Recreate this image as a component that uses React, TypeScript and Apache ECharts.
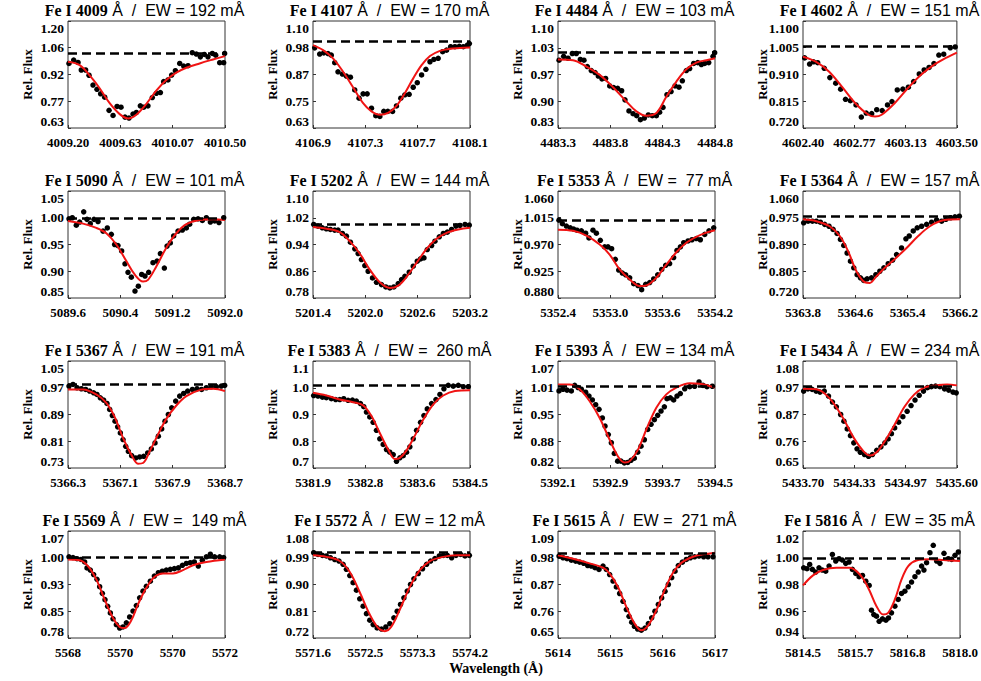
import React, { useEffect, useRef } from "react";
import * as echarts from "echarts";

// ---------- data (wavelength in Å, relative flux) ----------
const obs4009 = [[4009.208,0.974],[4009.247,0.992],[4009.283,0.979],[4009.310,0.939],[4009.346,0.939],[4009.374,0.911],[4009.407,0.859],[4009.440,0.836],[4009.470,0.812],[4009.504,0.794],[4009.540,0.724],[4009.573,0.697],[4009.606,0.745],[4009.639,0.741],[4009.672,0.688],[4009.705,0.683],[4009.738,0.704],[4009.766,0.713],[4009.799,0.748],[4009.827,0.741],[4009.862,0.748],[4009.898,0.792],[4009.931,0.815],[4009.965,0.819],[4009.992,0.877],[4010.028,0.886],[4010.058,0.912],[4010.089,0.935],[4010.125,0.974],[4010.158,0.960],[4010.194,0.962],[4010.229,1.031],[4010.263,1.024],[4010.296,1.009],[4010.329,1.022],[4010.359,1.009],[4010.395,1.027],[4010.423,1.018],[4010.456,0.978],[4010.489,0.978],[4010.497,1.027]];
const fit4009 = [[4009.200,0.983],[4009.297,0.965],[4009.393,0.900],[4009.462,0.842],[4009.545,0.762],[4009.628,0.704],[4009.697,0.681],[4009.766,0.701],[4009.849,0.759],[4009.931,0.829],[4010.014,0.886],[4010.097,0.925],[4010.180,0.951],[4010.290,0.974],[4010.401,0.995],[4010.500,1.013]];

const obs4107 = [[4106.913,0.982],[4106.951,0.955],[4106.982,0.960],[4107.015,0.957],[4107.040,0.950],[4107.066,0.917],[4107.091,0.877],[4107.125,0.867],[4107.155,0.858],[4107.186,0.853],[4107.219,0.797],[4107.252,0.761],[4107.283,0.780],[4107.314,0.780],[4107.347,0.717],[4107.380,0.684],[4107.411,0.681],[4107.441,0.703],[4107.472,0.703],[4107.508,0.703],[4107.538,0.727],[4107.571,0.761],[4107.602,0.776],[4107.635,0.778],[4107.666,0.809],[4107.697,0.829],[4107.730,0.863],[4107.763,0.888],[4107.794,0.921],[4107.824,0.931],[4107.857,0.936],[4107.891,0.965],[4107.921,0.972],[4107.952,0.987],[4107.985,0.987],[4108.018,0.989],[4108.049,0.987],[4108.080,0.994],[4108.095,1.001]];
const fit4107 = [[4106.900,0.994],[4106.977,0.972],[4107.053,0.936],[4107.130,0.877],[4107.206,0.809],[4107.283,0.739],[4107.347,0.703],[4107.411,0.688],[4107.474,0.696],[4107.538,0.727],[4107.602,0.783],[4107.666,0.848],[4107.730,0.906],[4107.794,0.946],[4107.870,0.969],[4107.947,0.978],[4108.023,0.981],[4108.100,0.984]];

const obs4484 = [[4483.310,1.001],[4483.354,1.011],[4483.396,1.006],[4483.437,1.018],[4483.475,1.018],[4483.513,1.003],[4483.548,1.001],[4483.580,0.985],[4483.618,0.975],[4483.654,0.970],[4483.685,0.961],[4483.720,0.954],[4483.755,0.955],[4483.794,0.936],[4483.832,0.932],[4483.870,0.930],[4483.908,0.924],[4483.940,0.901],[4483.978,0.873],[4484.017,0.866],[4484.052,0.861],[4484.087,0.851],[4484.125,0.855],[4484.163,0.863],[4484.201,0.861],[4484.240,0.861],[4484.271,0.870],[4484.303,0.882],[4484.341,0.914],[4484.380,0.922],[4484.418,0.936],[4484.456,0.933],[4484.488,0.949],[4484.526,0.975],[4484.558,0.980],[4484.596,0.993],[4484.635,0.995],[4484.670,0.990],[4484.701,0.993],[4484.740,0.995],[4484.781,1.011],[4484.797,1.020]];
const fit4484 = [[4483.300,1.003],[4483.443,1.001],[4483.571,0.985],[4483.698,0.964],[4483.826,0.933],[4483.953,0.897],[4484.049,0.872],[4484.144,0.861],[4484.240,0.868],[4484.335,0.909],[4484.431,0.947],[4484.526,0.978],[4484.622,0.995],[4484.717,1.001],[4484.800,1.006]];

const obs4602 = [[4602.412,0.969],[4602.447,0.947],[4602.475,0.955],[4602.505,0.952],[4602.552,0.932],[4602.592,0.899],[4602.634,0.879],[4602.669,0.858],[4602.704,0.822],[4602.739,0.817],[4602.779,0.802],[4602.817,0.759],[4602.852,0.773],[4602.891,0.771],[4602.927,0.785],[4602.966,0.782],[4603.004,0.802],[4603.036,0.814],[4603.074,0.855],[4603.114,0.858],[4603.153,0.865],[4603.191,0.885],[4603.231,0.912],[4603.266,0.926],[4603.301,0.935],[4603.336,0.949],[4603.371,0.979],[4603.406,0.982],[4603.453,1.005],[4603.488,1.008]];
const fit4602 = [[4602.400,0.973],[4602.494,0.955],[4602.587,0.920],[4602.681,0.865],[4602.774,0.808],[4602.868,0.767],[4602.915,0.761],[4602.962,0.767],[4603.055,0.808],[4603.149,0.861],[4603.242,0.908],[4603.336,0.944],[4603.430,0.971],[4603.500,0.988]];

const obs5090 = [[5089.615,0.998],[5089.666,1.000],[5089.727,0.986],[5089.778,0.992],[5089.840,1.011],[5089.890,0.997],[5089.941,0.989],[5089.997,0.997],[5090.059,0.993],[5090.135,0.975],[5090.201,0.981],[5090.262,0.969],[5090.313,0.950],[5090.364,0.948],[5090.420,0.938],[5090.471,0.914],[5090.517,0.898],[5090.568,0.889],[5090.624,0.863],[5090.675,0.872],[5090.726,0.894],[5090.777,0.891],[5090.833,0.898],[5090.899,0.916],[5090.961,0.919],[5091.012,0.933],[5091.073,0.906],[5091.114,0.947],[5091.164,0.953],[5091.215,0.966],[5091.282,0.975],[5091.348,0.977],[5091.409,0.981],[5091.460,0.988],[5091.521,0.997],[5091.588,0.998],[5091.654,0.995],[5091.715,1.000],[5091.776,0.992],[5091.842,0.994],[5091.908,0.991],[5091.980,1.000]];
const fit5090 = [[5089.600,0.994],[5089.829,0.989],[5090.033,0.981],[5090.186,0.971],[5090.339,0.950],[5090.492,0.919],[5090.619,0.894],[5090.747,0.881],[5090.823,0.884],[5090.950,0.909],[5091.103,0.944],[5091.256,0.971],[5091.409,0.988],[5091.613,0.996],[5091.817,0.997],[5092.000,0.996]];

const obs5202 = [[5201.408,1.000],[5201.457,0.995],[5201.507,0.990],[5201.553,0.987],[5201.599,0.985],[5201.649,0.983],[5201.687,0.983],[5201.737,0.973],[5201.783,0.965],[5201.829,0.947],[5201.879,0.927],[5201.917,0.913],[5201.955,0.895],[5201.994,0.877],[5202.032,0.860],[5202.082,0.840],[5202.128,0.827],[5202.185,0.820],[5202.235,0.813],[5202.281,0.810],[5202.327,0.813],[5202.377,0.823],[5202.415,0.835],[5202.453,0.845],[5202.503,0.857],[5202.549,0.875],[5202.595,0.890],[5202.633,0.897],[5202.672,0.900],[5202.710,0.925],[5202.760,0.937],[5202.798,0.950],[5202.848,0.963],[5202.894,0.973],[5202.940,0.977],[5202.989,0.985],[5203.039,0.995],[5203.085,0.997],[5203.143,1.000],[5203.192,0.998]];
const fit5202 = [[5201.400,0.992],[5201.553,0.987],[5201.706,0.977],[5201.821,0.950],[5201.936,0.913],[5202.051,0.865],[5202.166,0.827],[5202.281,0.810],[5202.377,0.817],[5202.472,0.843],[5202.587,0.885],[5202.702,0.927],[5202.817,0.957],[5202.932,0.975],[5203.066,0.985],[5203.200,0.990]];

const obs5353 = [[5352.411,1.011],[5352.450,1.005],[5352.496,1.001],[5352.541,0.998],[5352.580,0.996],[5352.618,0.994],[5352.668,0.993],[5352.717,0.989],[5352.755,0.981],[5352.801,0.994],[5352.840,0.989],[5352.885,0.977],[5352.935,0.966],[5352.973,0.966],[5353.015,0.963],[5353.057,0.945],[5353.096,0.927],[5353.138,0.922],[5353.176,0.919],[5353.222,0.914],[5353.268,0.904],[5353.317,0.901],[5353.359,0.894],[5353.405,0.903],[5353.451,0.906],[5353.497,0.912],[5353.543,0.919],[5353.589,0.928],[5353.634,0.935],[5353.680,0.938],[5353.726,0.948],[5353.764,0.960],[5353.803,0.966],[5353.841,0.973],[5353.891,0.976],[5353.936,0.978],[5353.986,0.980],[5354.032,0.978],[5354.082,0.987],[5354.131,0.993],[5354.185,0.998]];
const fit5353 = [[5352.400,0.995],[5352.572,0.993],[5352.725,0.985],[5352.878,0.970],[5352.992,0.953],[5353.107,0.928],[5353.222,0.911],[5353.336,0.900],[5353.413,0.901],[5353.527,0.914],[5353.642,0.936],[5353.757,0.957],[5353.871,0.973],[5353.986,0.983],[5354.101,0.990],[5354.200,0.994]];

const obs5364 = [[5363.810,0.959],[5363.877,0.964],[5363.943,0.964],[5364.004,0.964],[5364.066,0.961],[5364.132,0.954],[5364.198,0.948],[5364.260,0.938],[5364.321,0.925],[5364.372,0.906],[5364.423,0.887],[5364.474,0.863],[5364.525,0.837],[5364.576,0.816],[5364.627,0.794],[5364.678,0.784],[5364.729,0.776],[5364.780,0.781],[5364.847,0.784],[5364.913,0.794],[5364.974,0.805],[5365.036,0.816],[5365.102,0.829],[5365.168,0.840],[5365.230,0.858],[5365.306,0.879],[5365.373,0.908],[5365.424,0.917],[5365.485,0.933],[5365.546,0.943],[5365.613,0.948],[5365.689,0.954],[5365.766,0.961],[5365.842,0.968],[5365.919,0.964],[5365.985,0.970],[5366.057,0.975],[5366.123,0.978],[5366.190,0.980]];
const fit5364 = [[5363.800,0.970],[5364.004,0.964],[5364.208,0.948],[5364.362,0.917],[5364.489,0.869],[5364.617,0.805],[5364.745,0.770],[5364.821,0.768],[5364.923,0.789],[5365.051,0.816],[5365.204,0.844],[5365.383,0.879],[5365.561,0.917],[5365.740,0.948],[5365.944,0.967],[5366.200,0.970]];

const obs5367 = [[5366.315,0.975],[5366.376,0.980],[5366.438,0.970],[5366.504,0.967],[5366.570,0.965],[5366.631,0.960],[5366.692,0.955],[5366.743,0.950],[5366.794,0.940],[5366.845,0.933],[5366.896,0.923],[5366.937,0.905],[5366.978,0.887],[5367.019,0.870],[5367.059,0.853],[5367.100,0.835],[5367.141,0.815],[5367.182,0.795],[5367.222,0.780],[5367.273,0.767],[5367.334,0.760],[5367.396,0.763],[5367.457,0.765],[5367.518,0.775],[5367.574,0.787],[5367.630,0.805],[5367.681,0.825],[5367.732,0.847],[5367.783,0.870],[5367.834,0.890],[5367.885,0.910],[5367.946,0.930],[5368.007,0.945],[5368.068,0.953],[5368.129,0.960],[5368.201,0.965],[5368.272,0.967],[5368.343,0.965],[5368.415,0.970],[5368.491,0.973],[5368.568,0.973],[5368.644,0.975],[5368.695,0.977]];
const fit5367 = [[5366.300,0.965],[5366.529,0.965],[5366.733,0.950],[5366.886,0.925],[5367.013,0.883],[5367.141,0.820],[5367.268,0.770],[5367.370,0.743],[5367.447,0.745],[5367.549,0.780],[5367.676,0.830],[5367.803,0.877],[5367.956,0.917],[5368.109,0.945],[5368.313,0.963],[5368.517,0.967],[5368.700,0.960]];

const obs5383 = [[5381.911,0.971],[5381.983,0.969],[5382.055,0.965],[5382.121,0.963],[5382.204,0.959],[5382.276,0.956],[5382.343,0.956],[5382.409,0.959],[5382.481,0.953],[5382.553,0.954],[5382.619,0.950],[5382.686,0.941],[5382.741,0.929],[5382.785,0.909],[5382.840,0.891],[5382.896,0.871],[5382.951,0.841],[5383.006,0.809],[5383.062,0.788],[5383.117,0.769],[5383.172,0.759],[5383.228,0.750],[5383.283,0.725],[5383.338,0.738],[5383.394,0.746],[5383.449,0.759],[5383.504,0.779],[5383.560,0.809],[5383.615,0.841],[5383.681,0.871],[5383.737,0.896],[5383.792,0.921],[5383.864,0.941],[5383.936,0.956],[5384.002,0.975],[5384.068,0.996],[5384.140,1.009],[5384.223,1.006],[5384.306,1.009],[5384.389,1.004],[5384.472,1.004]];
const fit5383 = [[5381.900,0.981],[5382.121,0.971],[5382.343,0.956],[5382.564,0.946],[5382.730,0.934],[5382.868,0.894],[5383.006,0.831],[5383.145,0.769],[5383.255,0.734],[5383.338,0.738],[5383.449,0.766],[5383.587,0.821],[5383.726,0.881],[5383.892,0.938],[5384.057,0.971],[5384.251,0.988],[5384.500,0.991]];

const obs5393 = [[5392.115,1.000],[5392.176,1.004],[5392.238,1.002],[5392.304,1.000],[5392.355,1.013],[5392.406,1.008],[5392.457,1.004],[5392.523,0.997],[5392.574,0.988],[5392.625,0.979],[5392.676,0.968],[5392.727,0.957],[5392.778,0.937],[5392.819,0.918],[5392.869,0.898],[5392.915,0.879],[5392.961,0.854],[5393.012,0.836],[5393.063,0.836],[5393.114,0.832],[5393.165,0.833],[5393.216,0.838],[5393.267,0.843],[5393.318,0.857],[5393.369,0.871],[5393.420,0.886],[5393.471,0.910],[5393.522,0.922],[5393.573,0.933],[5393.624,0.943],[5393.675,0.953],[5393.726,0.963],[5393.766,0.982],[5393.817,0.984],[5393.868,0.979],[5393.919,0.988],[5393.970,0.994],[5394.037,1.005],[5394.113,1.010],[5394.189,1.011],[5394.256,1.021],[5394.317,1.013],[5394.378,1.010],[5394.459,1.011]];
const fit5393 = [[5392.100,1.015],[5392.278,1.015],[5392.431,1.004],[5392.584,0.976],[5392.737,0.937],[5392.890,0.886],[5393.017,0.847],[5393.119,0.833],[5393.196,0.836],[5393.323,0.863],[5393.450,0.910],[5393.603,0.961],[5393.756,0.992],[5393.909,1.008],[5394.113,1.018],[5394.266,1.017],[5394.500,1.008]];

const obs5434 = [[5433.708,0.959],[5433.761,0.968],[5433.813,0.966],[5433.862,0.959],[5433.910,0.955],[5433.963,0.959],[5434.015,0.939],[5434.064,0.915],[5434.112,0.896],[5434.165,0.865],[5434.205,0.838],[5434.246,0.807],[5434.286,0.780],[5434.327,0.751],[5434.367,0.727],[5434.408,0.713],[5434.460,0.704],[5434.509,0.697],[5434.557,0.704],[5434.610,0.721],[5434.662,0.735],[5434.711,0.751],[5434.751,0.767],[5434.792,0.788],[5434.832,0.811],[5434.881,0.834],[5434.933,0.856],[5434.986,0.878],[5435.034,0.901],[5435.083,0.923],[5435.135,0.942],[5435.188,0.959],[5435.236,0.973],[5435.285,0.977],[5435.337,0.979],[5435.390,0.977],[5435.447,0.968],[5435.499,0.963],[5435.552,0.955],[5435.592,0.952]];
const fit5434 = [[5433.700,0.968],[5433.862,0.966],[5434.023,0.932],[5434.185,0.856],[5434.327,0.771],[5434.448,0.717],[5434.529,0.700],[5434.610,0.713],[5434.711,0.758],[5434.832,0.825],[5434.953,0.896],[5435.075,0.946],[5435.196,0.973],[5435.337,0.982],[5435.479,0.986],[5435.600,0.982]];

const obs5569 = [[5568.519,1.000],[5568.596,0.998],[5568.672,0.995],[5568.748,0.993],[5568.818,0.986],[5568.863,0.970],[5568.927,0.964],[5568.990,0.952],[5569.054,0.939],[5569.105,0.919],[5569.156,0.901],[5569.207,0.884],[5569.258,0.866],[5569.309,0.848],[5569.360,0.832],[5569.424,0.816],[5569.487,0.807],[5569.551,0.810],[5569.615,0.821],[5569.678,0.837],[5569.742,0.853],[5569.806,0.868],[5569.869,0.889],[5569.933,0.907],[5569.997,0.920],[5570.073,0.934],[5570.150,0.948],[5570.226,0.957],[5570.302,0.961],[5570.379,0.964],[5570.455,0.966],[5570.532,0.968],[5570.608,0.970],[5570.685,0.977],[5570.761,0.982],[5570.837,0.984],[5570.914,0.986],[5570.990,0.975],[5571.067,0.991],[5571.143,1.000],[5571.220,1.007],[5571.302,1.000],[5571.398,1.000],[5571.474,0.998]];
const fit5569 = [[5568.500,0.993],[5568.723,0.991],[5568.882,0.975],[5569.041,0.939],[5569.201,0.884],[5569.360,0.834],[5569.487,0.810],[5569.583,0.807],[5569.710,0.828],[5569.837,0.871],[5569.997,0.916],[5570.156,0.946],[5570.315,0.955],[5570.506,0.955],[5570.697,0.964],[5570.888,0.977],[5571.143,0.986],[5571.500,0.993]];

const obs5572 = [[5571.611,1.007],[5571.683,1.001],[5571.755,0.998],[5571.821,0.996],[5571.888,0.990],[5571.960,0.984],[5572.031,0.979],[5572.098,0.968],[5572.153,0.951],[5572.209,0.930],[5572.264,0.906],[5572.319,0.881],[5572.374,0.852],[5572.430,0.827],[5572.485,0.802],[5572.540,0.780],[5572.596,0.765],[5572.662,0.754],[5572.734,0.750],[5572.806,0.757],[5572.872,0.768],[5572.939,0.788],[5572.994,0.810],[5573.049,0.833],[5573.105,0.855],[5573.160,0.878],[5573.215,0.900],[5573.271,0.919],[5573.343,0.937],[5573.414,0.953],[5573.481,0.968],[5573.547,0.979],[5573.619,0.987],[5573.691,0.996],[5573.757,0.998],[5573.824,0.998],[5573.896,0.990],[5573.968,0.998],[5574.045,1.001],[5574.117,0.996],[5574.189,0.998]];
const fit5572 = [[5571.600,0.998],[5571.821,0.993],[5572.043,0.979],[5572.209,0.942],[5572.374,0.874],[5572.540,0.799],[5572.679,0.754],[5572.789,0.743],[5572.900,0.759],[5573.038,0.816],[5573.204,0.892],[5573.370,0.948],[5573.536,0.979],[5573.757,0.993],[5573.979,0.998],[5574.200,0.998]];

const obs5615 = [[5614.019,0.987],[5614.096,0.980],[5614.172,0.976],[5614.255,0.970],[5614.338,0.966],[5614.414,0.962],[5614.490,0.957],[5614.567,0.948],[5614.637,0.946],[5614.707,0.939],[5614.783,0.932],[5614.860,0.946],[5614.924,0.932],[5614.987,0.911],[5615.051,0.884],[5615.115,0.860],[5615.178,0.833],[5615.242,0.801],[5615.306,0.767],[5615.357,0.739],[5615.408,0.715],[5615.459,0.698],[5615.522,0.687],[5615.592,0.682],[5615.662,0.691],[5615.726,0.709],[5615.790,0.733],[5615.853,0.760],[5615.917,0.788],[5615.981,0.815],[5616.045,0.842],[5616.108,0.870],[5616.172,0.898],[5616.236,0.925],[5616.299,0.948],[5616.376,0.962],[5616.452,0.973],[5616.529,0.980],[5616.611,0.984],[5616.694,0.987],[5616.783,0.984],[5616.866,0.984],[5616.962,0.984]];
const fit5615 = [[5614.000,0.990],[5614.287,0.976],[5614.605,0.957],[5614.860,0.939],[5614.987,0.915],[5615.146,0.860],[5615.306,0.778],[5615.465,0.709],[5615.592,0.682],[5615.720,0.701],[5615.879,0.764],[5616.038,0.847],[5616.197,0.918],[5616.357,0.959],[5616.580,0.984],[5616.771,0.994],[5617.000,1.001]];

const obs5816 = [[5814.515,0.9925],[5814.589,0.9918],[5814.649,0.9950],[5814.709,0.9913],[5814.783,0.9893],[5814.857,0.9925],[5814.932,0.9908],[5815.006,0.9900],[5815.081,0.9938],[5815.155,1.0025],[5815.230,0.9975],[5815.304,0.9993],[5815.379,0.9983],[5815.453,0.9958],[5815.528,0.9968],[5815.602,0.9913],[5815.677,0.9883],[5815.751,0.9858],[5815.826,0.9868],[5815.900,0.9825],[5815.975,0.9793],[5816.027,0.9608],[5816.079,0.9575],[5816.138,0.9563],[5816.198,0.9525],[5816.272,0.9543],[5816.347,0.9533],[5816.406,0.9550],[5816.473,0.9588],[5816.548,0.9638],[5816.622,0.9688],[5816.697,0.9733],[5816.771,0.9750],[5816.846,0.9783],[5816.920,0.9818],[5816.995,0.9858],[5817.069,0.9893],[5817.144,0.9938],[5817.196,0.9908],[5817.255,0.9963],[5817.330,1.0038],[5817.404,1.0093],[5817.479,0.9975],[5817.553,0.9958],[5817.643,1.0033],[5817.740,0.9993],[5817.814,0.9988],[5817.888,1.0018],[5817.963,1.0043]];
const fit5816 = [[5814.500,0.9793],[5814.723,0.9868],[5814.947,0.9908],[5815.245,0.9925],[5815.543,0.9925],[5815.692,0.9900],[5815.840,0.9843],[5815.989,0.9750],[5816.138,0.9638],[5816.287,0.9575],[5816.399,0.9588],[5816.548,0.9688],[5816.697,0.9838],[5816.846,0.9938],[5817.032,0.9980],[5817.330,0.9988],[5817.628,0.9983],[5818.000,0.9975]];

// panel titles, equivalent widths, continuum levels
const lineNames = ["Fe I 4009","Fe I 4107","Fe I 4484","Fe I 4602","Fe I 5090","Fe I 5202","Fe I 5353","Fe I 5364","Fe I 5367","Fe I 5383","Fe I 5393","Fe I 5434","Fe I 5569","Fe I 5572","Fe I 5615","Fe I 5816"];
const ewTexts = ["EW = 192 mÅ","EW = 170 mÅ","EW = 103 mÅ","EW = 151 mÅ","EW = 101 mÅ","EW = 144 mÅ","EW =  77 mÅ","EW = 157 mÅ","EW = 191 mÅ","EW =  260 mÅ","EW = 134 mÅ","EW = 234 mÅ","EW =  149 mÅ","EW = 12 mÅ","EW =  271 mÅ","EW = 35 mÅ"];
const continuum = [1.032,1.008,1.022,1.012,1.003,1.003,1.0105,0.982,0.983,1.0125,1.015,0.977,1.002,1.007,1.001,1.0];

// axis ranges and tick labels
const xRanges = [[4009.2,4010.5],[4106.9,4108.1],[4483.3,4484.8],[4602.4,4603.5],[5089.6,5092.0],[5201.4,5203.2],[5352.4,5354.2],[5363.8,5366.2],[5366.3,5368.7],[5381.9,5384.5],[5392.1,5394.5],[5433.7,5435.6],[5568.5,5571.5],[5571.6,5574.2],[5614,5617],[5814.5,5818.0]];
const xTickLabels = [
  ["4009.20","4009.63","4010.07","4010.50"],["4106.9","4107.3","4107.7","4108.1"],["4483.3","4483.8","4484.3","4484.8"],["4602.40","4602.77","4603.13","4603.50"],
  ["5089.6","5090.4","5091.2","5092.0"],["5201.4","5202.0","5202.6","5203.2"],["5352.4","5353.0","5353.6","5354.2"],["5363.8","5364.6","5365.4","5366.2"],
  ["5366.3","5367.1","5367.9","5368.7"],["5381.9","5382.8","5383.6","5384.5"],["5392.1","5392.9","5393.7","5394.5"],["5433.70","5434.33","5434.97","5435.60"],
  ["5568","5570","5570","5572"],["5571.6","5572.5","5573.3","5574.2"],["5614","5615","5616","5617"],["5814.5","5815.7","5816.8","5818.0"],
];
const yRanges = [[0.63,1.20],[0.63,1.10],[0.83,1.10],[0.72,1.10],[0.85,1.05],[0.78,1.10],[0.88,1.06],[0.72,1.06],[0.73,1.05],[0.7,1.1],[0.82,1.07],[0.65,1.08],[0.78,1.07],[0.72,1.08],[0.65,1.09],[0.94,1.02]];
const yTickLabels = [
  ["0.63","0.77","0.92","1.06","1.20"],["0.63","0.75","0.87","0.98","1.10"],["0.83","0.90","0.97","1.03","1.10"],["0.720","0.815","0.910","1.005","1.100"],
  ["0.85","0.90","0.95","1.00","1.05"],["0.78","0.86","0.94","1.02","1.10"],["0.880","0.925","0.970","1.015","1.060"],["0.720","0.805","0.890","0.975","1.060"],
  ["0.73","0.81","0.89","0.97","1.05"],["0.7","0.8","0.9","1.0","1.1"],["0.82","0.88","0.95","1.01","1.07"],["0.65","0.76","0.87","0.97","1.08"],
  ["0.78","0.85","0.93","1.00","1.07"],["0.72","0.81","0.90","0.99","1.08"],["0.65","0.76","0.87","0.98","1.09"],["0.94","0.96","0.98","1.00","1.02"],
];
const observed = [obs4009,obs4107,obs4484,obs4602,obs5090,obs5202,obs5353,obs5364,obs5367,obs5383,obs5393,obs5434,obs5569,obs5572,obs5615,obs5816];
const fitted = [fit4009,fit4107,fit4484,fit4602,fit5090,fit5202,fit5353,fit5364,fit5367,fit5383,fit5393,fit5434,fit5569,fit5572,fit5615,fit5816];

// ---------- layout ----------
const COL_LEFT = [68, 313, 558, 803];
const ROW_TOP = [21, 191, 361, 531];
const PW = 157;
const PH = 107;
const SERIF = "'Liberation Serif', 'Times New Roman', serif";
const SANS = "'Liberation Sans', Arial, sans-serif";

function ticks(range: number[], n: number) {
  const out: number[] = [];
  for (let k = 0; k < n; k++) out.push(range[0] + ((range[1] - range[0]) * k) / (n - 1));
  return out;
}
function labelFor(range: number[], labels: string[], v: number) {
  const k = Math.round(((v - range[0]) / (range[1] - range[0])) * (labels.length - 1));
  return labels[Math.max(0, Math.min(labels.length - 1, k))];
}

export default function App() {
  const ref = useRef<HTMLDivElement>(null);
  useEffect(() => {
    const chart = echarts.init(ref.current!, null, { renderer: "svg" });
    const grid: any[] = [];
    const xAxis: any[] = [];
    const yAxis: any[] = [];
    const series: any[] = [];
    const graphic: any[] = [];
    for (let i = 0; i < 16; i++) {
      const left = COL_LEFT[i % 4];
      const top = ROW_TOP[Math.floor(i / 4)];
      const xr = xRanges[i];
      const yr = yRanges[i];
      const xl = xTickLabels[i];
      const yl = yTickLabels[i];
      const xt = ticks(xr, xl.length);
      const yt = ticks(yr, yl.length);
      grid.push({ left, top, width: PW, height: PH, show: true, borderColor: "#333", borderWidth: 1, backgroundColor: "transparent" });
      xAxis.push({
        gridIndex: i, type: "value", min: xr[0], max: xr[1],
        axisLine: { show: false }, splitLine: { show: false },
        axisTick: { show: true, inside: true, length: 3, lineStyle: { color: "#333" }, customValues: xt },
        axisLabel: {
          customValues: xt, showMinLabel: true, showMaxLabel: true,
          formatter: (v: number) => labelFor(xr, xl, v),
          fontFamily: SERIF, fontWeight: "bold", fontSize: 13, color: "#000", margin: 8,
        },
      });
      yAxis.push({
        gridIndex: i, type: "value", min: yr[0], max: yr[1],
        axisLine: { show: false }, splitLine: { show: false },
        axisTick: { show: true, inside: true, length: 3, lineStyle: { color: "#333" }, customValues: yt },
        axisLabel: {
          customValues: yt, showMinLabel: true, showMaxLabel: true,
          formatter: (v: number) => labelFor(yr, yl, v),
          verticalAlignMaxLabel: "top", verticalAlignMinLabel: "bottom",
          fontFamily: SERIF, fontWeight: "bold", fontSize: 13.5, color: "#000", margin: 4,
        },
      });
      series.push({
        type: "scatter", xAxisIndex: i, yAxisIndex: i, data: observed[i],
        symbol: "circle", symbolSize: 5.5, itemStyle: { color: "#000", opacity: 1 }, silent: true, z: 2,
        markLine: {
          silent: true, symbol: "none", label: { show: false },
          lineStyle: { color: "#000", type: [9, 5], width: 2.5 },
          data: [{ yAxis: continuum[i] }],
        },
      });
      series.push({
        type: "line", xAxisIndex: i, yAxisIndex: i, data: fitted[i], smooth: 0.35,
        showSymbol: false, lineStyle: { color: "#f01414", width: 2 }, silent: true, z: 3,
      });
      graphic.push({
        type: "text", x: left + PW / 2 - 2, y: top - 11,
        style: {
          text: `{a|${lineNames[i]}}{b| Å  /  ${ewTexts[i]}}`,
          rich: {
            a: { fontFamily: SERIF, fontWeight: "bold", fontSize: 16, fill: "#000" },
            b: { fontFamily: SANS, fontSize: 16, fill: "#000" },
          },
          align: "center", verticalAlign: "middle", textAlign: "center", textVerticalAlign: "middle",
        },
      });
      graphic.push({
        type: "text", x: left - 41, y: top + PH / 2, rotation: Math.PI / 2,
        style: {
          text: "Rel. Flux", fontFamily: SERIF, fontWeight: "bold", fontSize: 13, fill: "#000",
          align: "center", verticalAlign: "middle", textAlign: "center", textVerticalAlign: "middle",
        },
      });
    }
    graphic.push({
      type: "text", x: 496, y: 668,
      style: {
        text: "Wavelength (Å)", fontFamily: SERIF, fontWeight: "bold", fontSize: 14, fill: "#000",
        align: "center", verticalAlign: "middle", textAlign: "center", textVerticalAlign: "middle",
      },
    });
    chart.setOption({ animation: false, backgroundColor: "#fff", grid, xAxis, yAxis, series, graphic });
    return () => chart.dispose();
  }, []);
  return <div ref={ref} style={{ position: "absolute", left: 0, top: 0, width: 981, height: 681, background: "#fff" }} />;
}
